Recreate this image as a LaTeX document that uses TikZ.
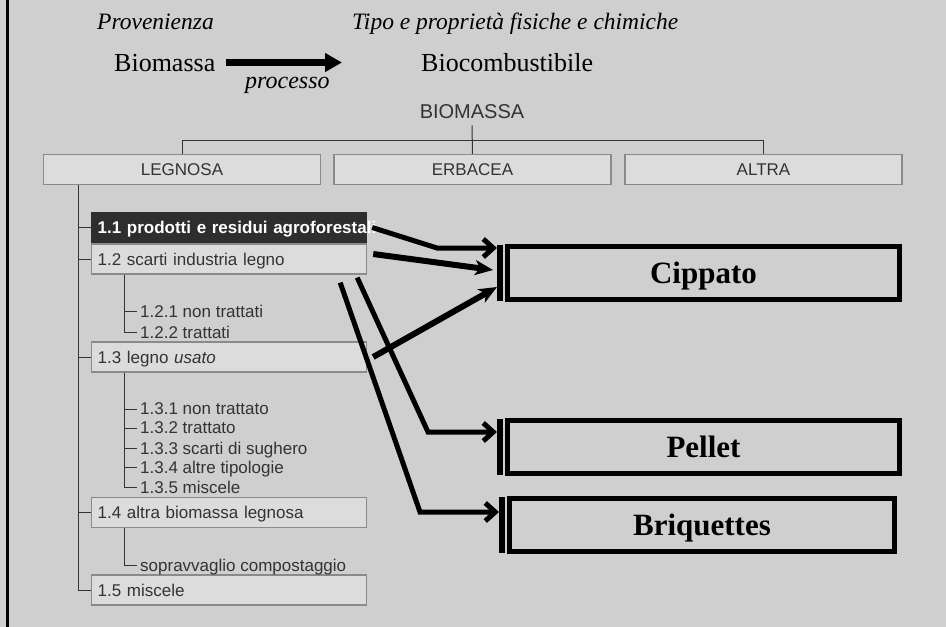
\documentclass[tikz,border=0pt]{standalone}
\usepackage{fontspec}
\setmainfont{Liberation Serif}
\setsansfont{Liberation Sans}
\usetikzlibrary{arrows.meta}

\definecolor{paper}{HTML}{CFCFCF}
\definecolor{boxgray}{HTML}{DCDCDC}
\definecolor{edgegray}{HTML}{8A8A8A}
\definecolor{inkgray}{HTML}{333333}
\definecolor{darkbox}{HTML}{2E2E2E}

\def\treefont{\sffamily\fontsize{17}{20}\selectfont}
\def\subfont{\sffamily\fontsize{17}{20}\selectfont}

\tikzset{
  catbox/.style={draw=edgegray, line width=1.2pt, fill=boxgray, minimum width=277pt,
    minimum height=30pt, inner sep=0pt, text=inkgray, font=\treefont},
  itembox/.style={draw=edgegray, line width=1.2pt, fill=boxgray, anchor=west,
    text width=263pt, inner xsep=6pt, inner ysep=0pt, minimum height=30pt,
    text depth=0pt, text=inkgray, font=\treefont},
  subitem/.style={anchor=west, inner xsep=3pt, inner ysep=0pt, text depth=0pt,
    text=inkgray, font=\subfont},
  treeline/.style={draw=inkgray, line width=1pt},
  fuelbox/.style={draw=black, line width=5pt, minimum width=392pt, minimum height=53pt,
    inner sep=0pt, text depth=0pt, font=\bfseries\fontsize{31}{36}\selectfont},
  fuelbar/.style={line width=6pt},
  elbowarrow/.style={line width=5pt, line join=miter, -{Straight Barb[length=10pt,width=18pt]}},
  straightarrow/.style={line width=6pt, -{Stealth[length=18pt,width=15pt,inset=5pt]}},
  bigarrow/.style={line width=7pt, -{Triangle[length=17pt,width=18pt]}},
  head/.style={anchor=base west, inner sep=0pt},
}

\begin{document}
\begin{tikzpicture}[x=1pt, y=-1pt]
\useasboundingbox (0,0) rectangle (946,627);
\fill[paper] (0,0) rectangle (946,627);
\draw[line width=3pt] (7.5,0) -- (7.5,627);

% title line
\node[head, font=\itshape\fontsize{23.5}{28}\selectfont] (prov) at (97,29) {Provenienza};
\node[head, font=\itshape\fontsize{23.5}{28}\selectfont] (tipo) at (352,29) {Tipo e proprietà fisiche e chimiche};
\node[head, font=\fontsize{26}{30}\selectfont] (bio) at (114,71) {Biomassa};
\node[head, font=\fontsize{26}{30}\selectfont] (biocomb) at (421,71) {Biocombustibile};
\node[head, font=\itshape\fontsize{24}{28}\selectfont] (proc) at (245,88) {processo};
\coordinate (proctip) at (342,62);
\draw[bigarrow] ([xshift=10pt]bio.east) -- (bio.east -| proctip);

% classification tree
\node[anchor=base, inner sep=0pt, text=inkgray, font=\sffamily\fontsize{20}{24}\selectfont] (bm) at (472,118) {BIOMASSA};
\node[catbox] (lg) at (182,169.5) {LEGNOSA};
\node[catbox] (er) at (472.5,169.5) {ERBACEA};
\node[catbox] (al) at (763.5,169.5) {ALTRA};
\draw[treeline] ([yshift=-7pt]bm.south) -- (er.north);
\draw[treeline] (lg.north) -- ++(0,13pt) -| (al.north);

\node[itembox, fill=darkbox, draw=darkbox, text=white, font=\treefont\bfseries] (s11) at (91,227.5) {\mbox{1.1 prodotti e residui agroforestali}};
\node[itembox] (s12) at (91,259) {1.2 scarti industria legno};
\node[itembox] (s13) at (91,357) {1.3 legno \textit{usato}};
\node[itembox] (s14) at (91,512.5) {1.4 altra biomassa legnosa};
\node[itembox] (s15) at (91,590) {1.5 miscele};

\coordinate (trunk) at ([xshift=-104pt]lg.south);
\draw[treeline] (trunk) |- (s15.west);
\foreach \id in {11,12,13,14}
  \draw[treeline] (trunk |- s\id.west) -- (s\id.west);

\foreach \y/\id/\txt in {311/121/1.2.1 non trattati, 332/122/1.2.2 trattati,
    409/131/1.3.1 non trattato, 428/132/1.3.2 trattato, 448/133/1.3.3 scarti di sughero,
    467/134/1.3.4 altre tipologie, 487/135/1.3.5 miscele, 565/141/sopravvaglio compostaggio}
  \node[subitem] (s\id) at (137,\y) {\txt};

\coordinate (b12) at ([xshift=33pt]s12.south west);
\coordinate (b13) at ([xshift=33pt]s13.south west);
\coordinate (b14) at ([xshift=33pt]s14.south west);
\draw[treeline] (b12) |- (s122.west);
\draw[treeline] (b12 |- s121.west) -- (s121.west);
\draw[treeline] (b13) |- (s135.west);
\foreach \id in {131,132,133,134}
  \draw[treeline] (b13 |- s\id.west) -- (s\id.west);
\draw[treeline] (b14) |- (s141.west);

% biofuels
\node[fuelbox] (cip) at (703.5,273) {Cippato};
\node[fuelbox] (pel) at (703.5,446.5) {Pellet};
\node[fuelbox, minimum width=385pt] (bri) at (702,525) {Briquettes};
\foreach \b in {cip,pel,bri}
  \draw[fuelbar] ([xshift=-5pt,yshift=-1pt]\b.north west) -- ([xshift=-5pt,yshift=1pt]\b.south west);

\draw[elbowarrow] ([xshift=5pt]s11.east) -- (437,248) -- ([xshift=-8pt,yshift=25pt]cip.west);
\draw[straightarrow] ([xshift=6pt,yshift=5pt]s12.east) -- ([xshift=-12pt,yshift=3pt]cip.west);
\draw[straightarrow] ([xshift=6pt]s13.east) -- ([xshift=-8pt,yshift=-14pt]cip.west);
\draw[elbowarrow] ([xshift=-10pt,yshift=-3pt]s12.south east) -- (428,432) -- ([xshift=-8pt,yshift=14.5pt]pel.west);
\draw[elbowarrow] ([xshift=-27pt,yshift=-8pt]s12.south east) -- (420,512) -- ([xshift=-8pt,yshift=13pt]bri.west);
\end{tikzpicture}
\end{document}
